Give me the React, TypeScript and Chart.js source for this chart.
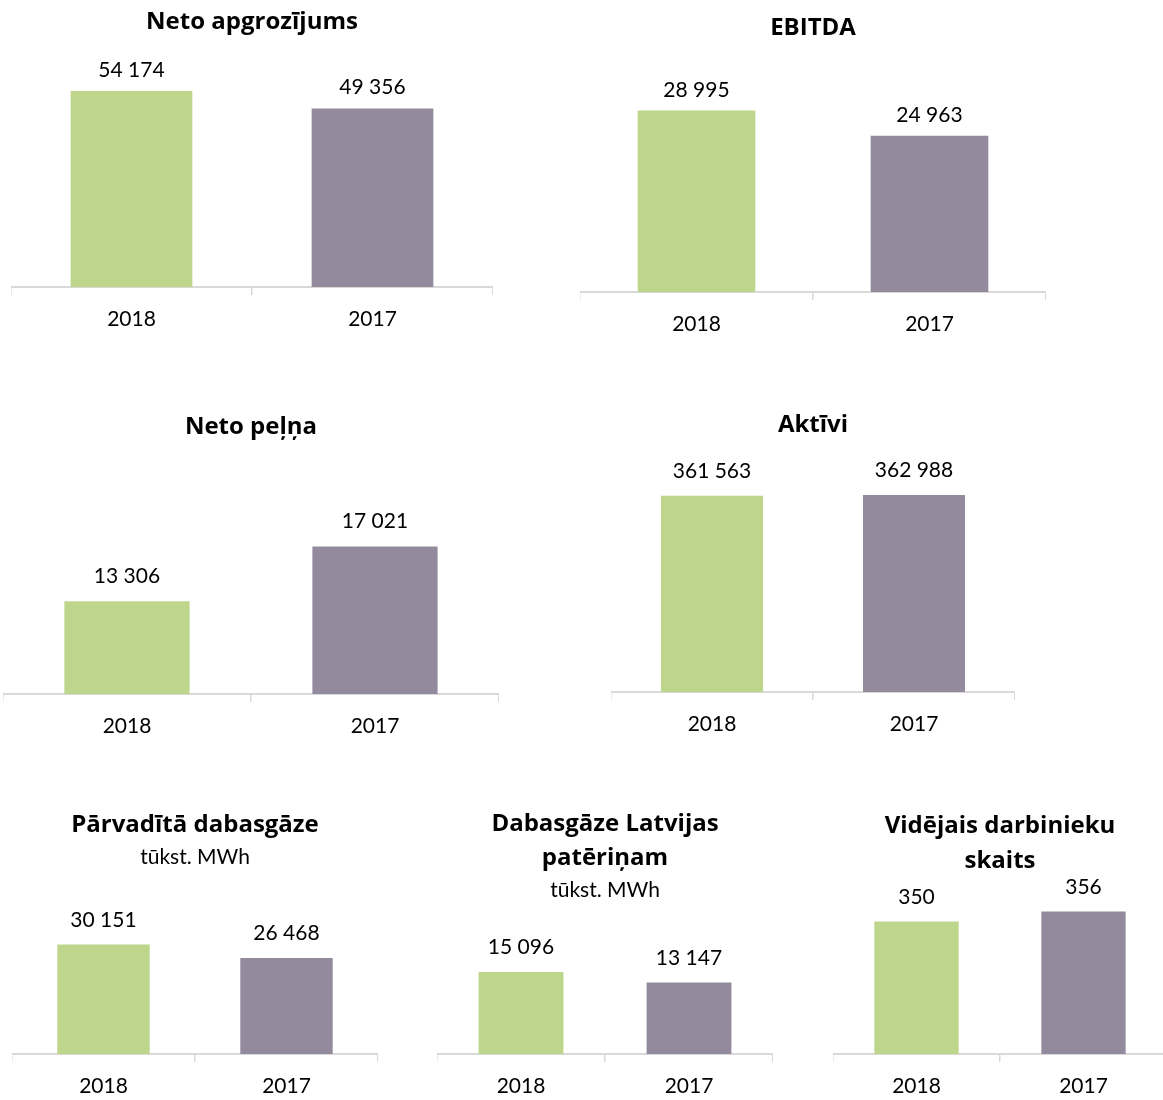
import React, { useEffect, useRef } from 'react';
import { Chart, registerables } from 'chart.js';

Chart.register(...registerables);

// ---- data ----
const years = ['2018', '2017'];
const netoApgrozijums = [54174, 49356];
const ebitda = [28995, 24963];
const netoPelna = [13306, 17021];
const aktivi = [361563, 362988];
const parvaditaDabasgaze = [30151, 26468];
const dabasgazeLatvijai = [15096, 13147];
const darbiniekuSkaits = [350, 356];

const panelValues = [
  netoApgrozijums,
  ebitda,
  netoPelna,
  aktivi,
  parvaditaDabasgaze,
  dabasgazeLatvijai,
  darbiniekuSkaits,
];
const axisMins = [0, 0, 7000, 0, 0, 0, 270];
const axisMaxs = [60000, 35000, 18000, 400000, 35000, 16000, 360];
const panelTitles = [
  ['Neto apgrozījums'],
  ['EBITDA'],
  ['Neto peļņa'],
  ['Aktīvi'],
  ['Pārvadītā dabasgāze'],
  ['Dabasgāze Latvijas', 'patēriņam'],
  ['Vidējais darbinieku', 'skaits'],
];
const panelSubtitles = ['', '', '', '', 'tūkst. MWh', 'tūkst. MWh', ''];

// ---- styles / layout ----
const barColors = ['#BDD68B', '#948A9E'];
const FONT = 'Lato, "Open Sans", sans-serif';
const TITLE_FONT = '"Open Sans", Lato, sans-serif';
const AXIS_H = 57;

const panelLayout = [
  { left: 11, top: 0, width: 482, axisY: 287, padTop: 70, titleY: [29], subY: 0, gap: 14 },
  { left: 580, top: 0, width: 466, axisY: 292, padTop: 73, titleY: [35], subY: 0, gap: 14 },
  { left: 3, top: 395, width: 496, axisY: 694, padTop: 137, titleY: [39], subY: 0, gap: 18 },
  { left: 611, top: 395, width: 404, axisY: 692, padTop: 80, titleY: [37], subY: 0, gap: 18 },
  { left: 12, top: 795, width: 366, axisY: 1054, padTop: 132, titleY: [37], subY: 69, gap: 18 },
  { left: 437, top: 795, width: 336, axisY: 1054, padTop: 172, titleY: [36, 70], subY: 102, gap: 18 },
  { left: 833, top: 795, width: 334, axisY: 1054, padTop: 110, titleY: [38, 73], subY: 0, gap: 18 },
];

function fmt(v: number): string {
  return String(v).replace(/\B(?=(\d{3})+(?!\d))/g, ' ');
}

function Panel({ index }: { index: number }) {
  const ref = useRef<HTMLCanvasElement | null>(null);
  const lay = panelLayout[index];
  const height = lay.axisY - lay.top + AXIS_H;

  useEffect(() => {
    if (!ref.current) return;
    const values = panelValues[index];
    const titles = panelTitles[index];
    const subtitle = panelSubtitles[index];
    const textPlugin = {
      id: 'panelText' + index,
      afterDatasetsDraw(chart: any) {
        const ctx = chart.ctx as CanvasRenderingContext2D;
        ctx.save();
        ctx.fillStyle = '#000';
        ctx.textAlign = 'center';
        ctx.textBaseline = 'alphabetic';
        const cx = (chart.chartArea.left + chart.chartArea.right) / 2;
        ctx.font = 'bold 24px ' + TITLE_FONT;
        titles.forEach((t, i) => ctx.fillText(t, cx, lay.titleY[i]));
        if (subtitle) {
          ctx.font = '21px ' + FONT;
          ctx.fillText(subtitle, cx, lay.subY);
        }
        ctx.font = '21px ' + FONT;
        const meta = chart.getDatasetMeta(0);
        meta.data.forEach((el: any, i: number) => {
          ctx.fillText(fmt(values[i]), el.x, el.y - lay.gap);
        });
        ctx.restore();
      },
    };
    const chart = new Chart(ref.current, {
      type: 'bar',
      data: {
        labels: years,
        datasets: [
          {
            data: values,
            backgroundColor: barColors,
            borderWidth: 0,
            barPercentage: 0.505,
            categoryPercentage: 1,
          },
        ],
      },
      options: {
        responsive: false,
        animation: false,
        layout: { padding: { top: lay.padTop, left: 0, right: 0, bottom: 0 } },
        plugins: {
          legend: { display: false },
          tooltip: { enabled: false },
          title: { display: false },
        },
        scales: {
          x: {
            grid: {
              display: true,
              drawOnChartArea: false,
              drawTicks: true,
              tickLength: 8,
              color: '#D9D9D9',
              lineWidth: 1.5,
            },
            border: { display: true, color: '#D9D9D9', width: 2 },
            ticks: {
              color: '#000',
              padding: 12,
              maxRotation: 0,
              font: { family: FONT, size: 21, lineHeight: '25px' },
            },
          },
          y: {
            display: false,
            min: axisMins[index],
            max: axisMaxs[index],
          },
        },
      },
      plugins: [textPlugin],
    });
    return () => chart.destroy();
  }, [index]);

  return (
    <canvas
      ref={ref}
      width={lay.width}
      height={height}
      style={{ position: 'absolute', left: lay.left, top: lay.top }}
    />
  );
}

export default function App() {
  return (
    <div
      style={{
        position: 'absolute',
        left: 0,
        top: 0,
        width: 1163,
        height: 1100,
        overflow: 'hidden',
        background: '#fff',
      }}
    >
      {panelValues.map((_, i) => (
        <Panel key={i} index={i} />
      ))}
    </div>
  );
}
